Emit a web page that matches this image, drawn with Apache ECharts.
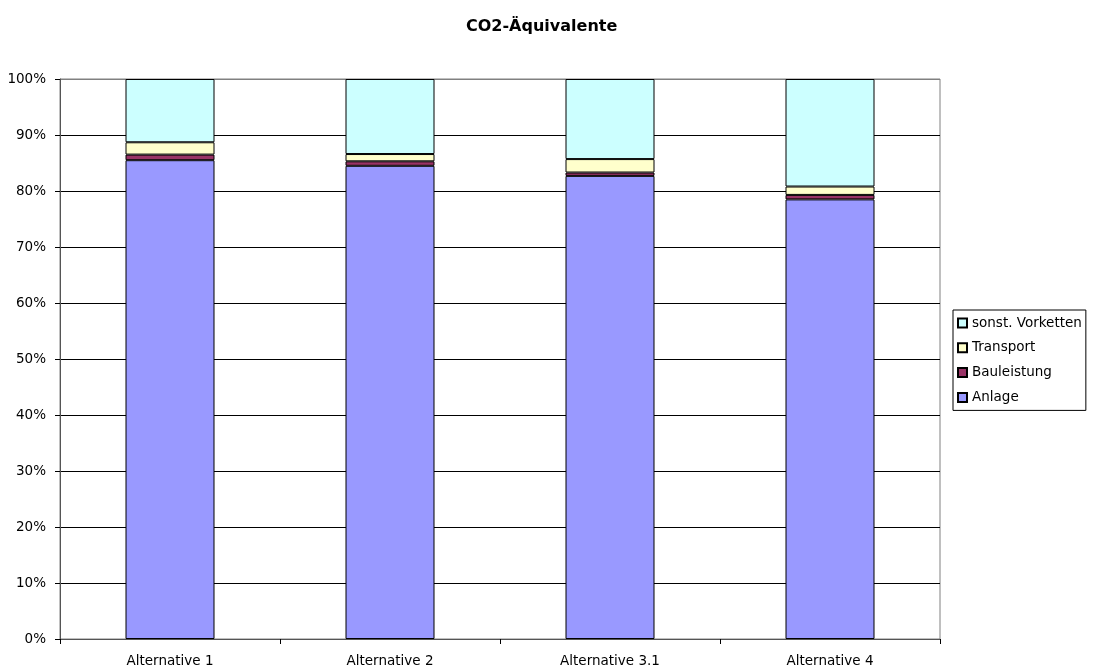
<!DOCTYPE html>
<html>
<head>
<meta charset="utf-8">
<script src="https://cdn.jsdelivr.net/npm/echarts@6/dist/echarts.min.js"></script>
<style>html,body{margin:0;padding:0;background:#fff;}#c{width:1094px;height:670px;}</style>
</head>
<body>
<div id="c"></div>
<script>
const categories = ['Alternative 1', 'Alternative 2', 'Alternative 3.1', 'Alternative 4'];
const anlage = [85.5, 84.5, 82.7, 78.5];
const bauleistung = [1.0, 0.8, 0.6, 0.8];
const transport = [2.2, 1.3, 2.4, 1.5];
const sonstVorketten = [11.3, 13.4, 14.3, 19.2];
const yTicks = [0, 10, 20, 30, 40, 50, 60, 70, 80, 90, 100];

const chart = echarts.init(document.getElementById('c'), null, {renderer: 'canvas'});
const font = 'DejaVu Sans, sans-serif';
const gridColors = yTicks.map((v, i) => i === yTicks.length - 1 ? '#808080' : '#000000');
function barSeries(name, data, color) {
  return {
    name: name, type: 'bar', stack: 'total', data: data, barWidth: 89,
    itemStyle: {color: color, borderColor: '#000', borderWidth: 1},
    emphasis: {disabled: true}
  };
}
chart.setOption({
  animation: false,
  backgroundColor: '#fff',
  title: {
    text: 'CO2-Äquivalente', left: 461, top: 14,
    textStyle: {fontFamily: font, fontSize: 16, fontWeight: 'bold', color: '#000'}
  },
  grid: {left: 60, right: 154, top: 79, bottom: 31, show: true, borderColor: '#808080', borderWidth: 1, containLabel: false},
  legend: {
    orient: 'vertical', left: 953, top: 310,
    data: ['sonst. Vorketten', 'Transport', 'Bauleistung', 'Anlage'],
    itemWidth: 9, itemHeight: 9, itemGap: 10.8, icon: 'rect',
    borderColor: '#000', borderWidth: 1, padding: [6, 4, 6, 4],
    textStyle: {fontFamily: font, fontSize: 13.5, color: '#000'},
    selectedMode: false
  },
  xAxis: {
    type: 'category', data: categories, boundaryGap: true,
    axisLine: {lineStyle: {color: '#555', width: 1}},
    axisTick: {show: true, alignWithLabel: false, length: 5, lineStyle: {color: '#000'}},
    axisLabel: {fontFamily: font, fontSize: 13.5, color: '#000', margin: 15}
  },
  yAxis: {
    type: 'value', min: 0, max: 100, interval: 10,
    axisLine: {show: true, lineStyle: {color: '#555', width: 1}},
    axisTick: {show: true, length: 5, lineStyle: {color: '#000'}},
    axisLabel: {fontFamily: font, fontSize: 13.5, color: '#000', margin: 14, formatter: '{value}%'},
    splitLine: {show: true, lineStyle: {color: gridColors, width: 1}}
  },
  series: [
    barSeries('Anlage', anlage, '#9999FF'),
    barSeries('Bauleistung', bauleistung, '#993366'),
    barSeries('Transport', transport, '#FFFFCC'),
    barSeries('sonst. Vorketten', sonstVorketten, '#CCFFFF')
  ]
});
</script>
</body>
</html>
